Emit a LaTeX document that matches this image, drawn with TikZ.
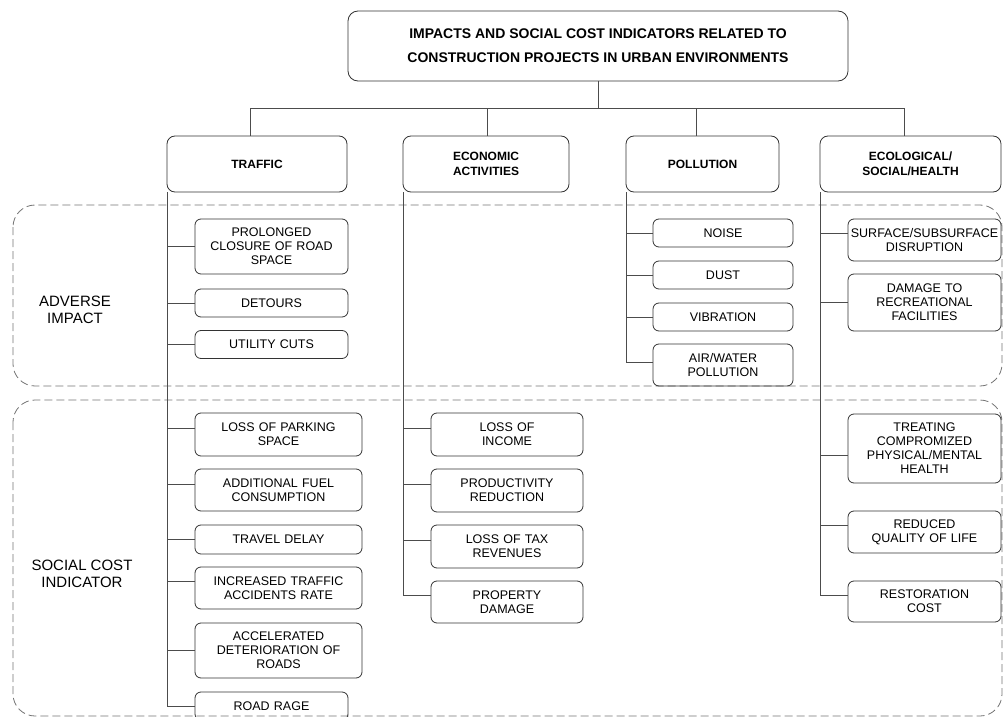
\documentclass[tikz,border=0pt]{standalone}
\usepackage{fontspec}
\setmainfont{Liberation Sans}
\usetikzlibrary{calc}

\begin{document}
\begin{tikzpicture}[x=1bp,y=-1bp,
    titlebox/.style={draw=black!80,line width=0.8bp,rounded corners=10bp,align=center,
        minimum width=500bp,minimum height=70bp,font=\fontsize{14bp}{24bp}\selectfont\bfseries},
    catbox/.style={draw=black!80,line width=0.8bp,rounded corners=8bp,align=center,
        minimum height=56bp,font=\fontsize{12bp}{15bp}\selectfont\bfseries},
    leaf/.style={draw=black!80,line width=0.8bp,rounded corners=6bp,align=center,
        inner xsep=1bp,inner ysep=1bp,font=\fontsize{12.5bp}{14bp}\selectfont},
    link/.style={draw=black!70,line width=0.8bp},
    zone/.style={draw=black!55,line width=0.8bp,dash pattern=on 8bp off 4bp,rounded corners=22bp},
    zonetext/.style={align=center,font=\fontsize{15bp}{17bp}\selectfont}]

\useasboundingbox (0,0) rectangle (1003,717);

% dashed bands
\draw[zone] (13,205) rectangle (1002,386);
\draw[zone] (13,400) rectangle (1002,716);
\node[zonetext] (adverse) at (75,310) {ADVERSE\\IMPACT};
\node[zonetext] (social) at (82,574) {SOCIAL COST\\INDICATOR};

\node[titlebox] (title) at (598,46) {
    IMPACTS AND SOCIAL COST INDICATORS RELATED TO\\
    CONSTRUCTION PROJECTS IN URBAN ENVIRONMENTS
    };

\node[catbox,minimum width=180bp] (traffic) at (257,164) {TRAFFIC};
\node[catbox,minimum width=166bp] (economic) at (486,164) {ECONOMIC\\ACTIVITIES};
\node[catbox,minimum width=153bp] (pollution) at (702.5,164) {POLLUTION};
\node[catbox,minimum width=181bp] (ecological) at (910.5,164) {ECOLOGICAL/\\SOCIAL/HEALTH};

% traffic
\node[leaf,text width=151bp,minimum height=55bp] (closure) at (271.5,246.5) {PROLONGED\\CLOSURE OF ROAD\\SPACE};
\node[leaf,text width=151bp,minimum height=28bp] (detours) at (271.5,303) {DETOURS};
\node[leaf,text width=151bp,minimum height=28bp] (cuts) at (271.5,344.5) {UTILITY CUTS};
\node[leaf,text width=165bp,minimum height=43bp] (parking) at (278.5,434.5) {LOSS OF PARKING\\SPACE};
\node[leaf,text width=165bp,minimum height=42bp] (fuel) at (278.5,490) {ADDITIONAL FUEL\\CONSUMPTION};
\node[leaf,text width=165bp,minimum height=29bp] (delay) at (278.5,539.5) {TRAVEL DELAY};
\node[leaf,text width=165bp,minimum height=42bp] (accidents) at (278.5,588) {INCREASED TRAFFIC\\ACCIDENTS RATE};
\node[leaf,text width=165bp,minimum height=55bp] (roads) at (278.5,650.5) {ACCELERATED\\DETERIORATION OF\\ROADS};
\node[leaf,text width=151bp,minimum height=28bp] (rage) at (271.5,706) {ROAD RAGE};

% economic activities
\node[leaf,text width=150bp,minimum height=43bp] (income) at (507,434.5) {LOSS OF\\INCOME};
\node[leaf,text width=150bp,minimum height=43bp] (productivity) at (507,490.5) {PRODUCTIVITY\\REDUCTION};
\node[leaf,text width=150bp,minimum height=43bp] (tax) at (507,546.5) {LOSS OF TAX\\REVENUES};
\node[leaf,text width=150bp,minimum height=42bp] (property) at (507,602) {PROPERTY\\DAMAGE};

% pollution
\node[leaf,text width=138bp,minimum height=28bp] (noise) at (723,233) {NOISE};
\node[leaf,text width=138bp,minimum height=28bp] (dust) at (723,275) {DUST};
\node[leaf,text width=138bp,minimum height=28bp] (vibration) at (723,317) {VIBRATION};
\node[leaf,text width=138bp,minimum height=42bp] (airwater) at (723,365) {AIR/WATER\\POLLUTION};

% ecological/social/health
\node[leaf,text width=151bp,minimum height=42bp] (surface) at (924.5,240) {SURFACE/SUBSURFACE\\DISRUPTION};
\node[leaf,text width=151bp,minimum height=57bp] (recreation) at (924.5,302.5) {DAMAGE TO\\RECREATIONAL\\FACILITIES};
\node[leaf,text width=151bp,minimum height=69bp] (health) at (924.5,448.5) {TREATING\\COMPROMIZED\\PHYSICAL/MENTAL\\HEALTH};
\node[leaf,text width=151bp,minimum height=42bp] (quality) at (924.5,532) {REDUCED\\QUALITY OF LIFE};
\node[leaf,text width=151bp,minimum height=41bp] (restoration) at (924.5,601.5) {RESTORATION\\COST};

% tree lines
\coordinate (bus) at (598,108);
\draw[link] (title.south) -- (bus);
\foreach \c/\s in {traffic/-7bp,economic/1bp,pollution/-6.5bp,ecological/-6.5bp}
    \draw[link] ([xshift=\s]\c.north) |- (bus);

\coordinate (tspine) at ([xshift=1bp]traffic.south west);
\coordinate (espine) at ([xshift=1bp]economic.south west);
\coordinate (pspine) at ([xshift=1bp]pollution.south west);
\coordinate (gspine) at ([xshift=1bp]ecological.south west);

\foreach \n/\s in {closure/0bp,detours/0bp,cuts/0bp,parking/6.5bp,fuel/6bp,delay/0bp,accidents/7bp,roads/0bp,rage/0bp}
    \draw[link] (tspine) |- ([yshift=\s]\n.west);
\foreach \n/\s in {income/6.5bp,productivity/6.5bp,tax/6.5bp,property/7bp}
    \draw[link] (espine) |- ([yshift=\s]\n.west);
\foreach \n/\s in {noise/0bp,dust/0bp,vibration/0bp,airwater/3bp}
    \draw[link] (pspine) |- ([yshift=\s]\n.west);
\foreach \n/\s in {surface/7bp,recreation/0bp,health/-6.5bp,quality/7bp,restoration/6.5bp}
    \draw[link] (gspine) |- ([yshift=\s]\n.west);

\end{tikzpicture}
\end{document}
